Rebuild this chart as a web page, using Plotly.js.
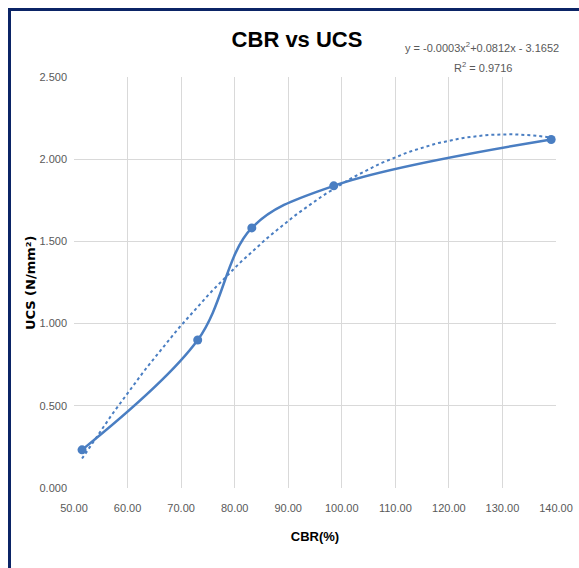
<!DOCTYPE html>
<html>
<head>
<meta charset="utf-8">
<script src="https://cdn.plot.ly/plotly-3.0.1.min.js"></script>
<style>
html,body{margin:0;padding:0;background:#fff;}
#wrap{position:relative;width:579px;height:568px;overflow:hidden;}
#chart{position:absolute;left:0;top:0;width:579px;height:568px;}
#frame{position:absolute;left:8px;top:8px;width:600px;height:600px;border-left:3px solid #0B2466;border-top:3px solid #0B2466;pointer-events:none;}
</style>
</head>
<body>
<div id="wrap"><div id="chart"></div><div id="frame"></div></div>
<script>
// Data
const cbr = [51.5, 73.1, 83.2, 98.5, 139.1];
const ucs = [0.232, 0.900, 1.582, 1.838, 2.120];
const xTicks = [50, 60, 70, 80, 90, 100, 110, 120, 130, 140];
const yTicks = [0, 0.5, 1.0, 1.5, 2.0, 2.5];
const eqText = 'y = -0.0003x<sup>2</sup>+0.0812x - 3.1652';
const r2Text = 'R<sup>2</sup> = 0.9716';

// Quadratic least-squares trendline from the data
function quadFit(xs, ys) {
  let S = [0,0,0,0,0], T = [0,0,0];
  for (let i = 0; i < xs.length; i++) {
    let p = 1;
    for (let k = 0; k < 5; k++) { S[k] += p; if (k < 3) T[k] += p * ys[i]; p *= xs[i]; }
  }
  const A = [[S[0],S[1],S[2],T[0]],[S[1],S[2],S[3],T[1]],[S[2],S[3],S[4],T[2]]];
  for (let c = 0; c < 3; c++) {
    for (let r = c + 1; r < 3; r++) {
      const f = A[r][c] / A[c][c];
      for (let k = c; k < 4; k++) A[r][k] -= f * A[c][k];
    }
  }
  const sol = [0,0,0];
  for (let r = 2; r >= 0; r--) {
    let s = A[r][3];
    for (let k = r + 1; k < 3; k++) s -= A[r][k] * sol[k];
    sol[r] = s / A[r][r];
  }
  return sol; // c0, c1, c2
}
const coef = quadFit(cbr, ucs);
const tx = [], ty = [];
const x0 = cbr[0], x1 = cbr[cbr.length - 1];
for (let i = 0; i <= 100; i++) {
  const x = x0 + (x1 - x0) * i / 100;
  tx.push(x); ty.push(coef[0] + coef[1] * x + coef[2] * x * x);
}

const blue = '#4A7EC2';
const narrow = '"Liberation Sans Narrow", "Liberation Sans", Arial, sans-serif';

const traces = [
  {x: tx, y: ty, mode: 'lines', type: 'scatter',
   line: {color: blue, width: 2, dash: 'dot'}, hoverinfo: 'skip'},
  {x: cbr, y: ucs, mode: 'lines+markers', type: 'scatter',
   line: {color: blue, width: 2.5, shape: 'spline', smoothing: 1},
   marker: {color: blue, size: 9}}
];

const layout = {
  width: 579, height: 568,
  margin: {l: 74, r: 23, t: 77, b: 80},
  paper_bgcolor: '#ffffff', plot_bgcolor: '#ffffff',
  showlegend: false,
  title: {text: '<b>CBR vs UCS</b>', x: 0.513, xanchor: 'center', y: 0.93, yanchor: 'middle',
          font: {family: narrow, size: 22, color: '#000000'}},
  xaxis: {
    range: [50, 140], tickvals: xTicks, tickformat: '.2f',
    showgrid: true, gridcolor: '#D9D9D9', gridwidth: 1,
    zeroline: false, showline: false, ticks: '', ticklabelstandoff: 12,
    tickfont: {family: narrow, size: 11, color: '#595959'},
    title: {text: '<b>CBR(%)</b>', standoff: 18, font: {family: narrow, size: 13, color: '#000000'}}
  },
  yaxis: {
    range: [0, 2.5], tickvals: yTicks, tickformat: '.3f', ticklabelstandoff: 6,
    showgrid: true, gridcolor: '#D9D9D9', gridwidth: 1,
    zeroline: false, showline: false, ticks: '',
    tickfont: {family: narrow, size: 11, color: '#595959'}
  },
  annotations: [
    {text: '<b>UCS (N/mm²)</b>', xref: 'paper', yref: 'paper', x: -0.09, y: 0.5, xanchor: 'center', yanchor: 'middle',
     textangle: -90, showarrow: false, font: {family: '"DejaVu Sans", Verdana, sans-serif', size: 13, color: '#000000'}},
    {text: eqText, xref: 'paper', yref: 'paper', x: 1.0104, y: 1.073, xanchor: 'right', yanchor: 'middle',
     showarrow: false, font: {family: narrow, size: 11, color: '#595959'}},
    {text: r2Text, xref: 'paper', yref: 'paper', x: 0.849, y: 1.024, xanchor: 'center', yanchor: 'middle',
     showarrow: false, font: {family: narrow, size: 11, color: '#595959'}}
  ]
};

Plotly.newPlot('chart', traces, layout, {displayModeBar: false, staticPlot: true});
</script>
</body>
</html>
